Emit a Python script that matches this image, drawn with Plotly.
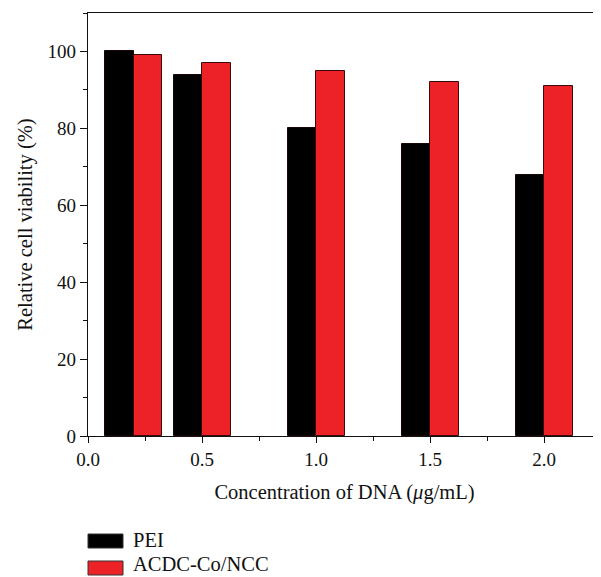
import plotly.graph_objects as go

conc = [0.2, 0.5, 1.0, 1.5, 2.0]
pei = [100, 94, 80, 76, 68]
acdc = [99, 97, 95, 92, 91]
series_names = ["PEI", "ACDC-Co/NCC"]
colors = ["#000000", "#EC2227"]
x_ticks = [0.0, 0.5, 1.0, 1.5, 2.0]
x_ticklabels = ["0.0", "0.5", "1.0", "1.5", "2.0"]
y_ticks = [0, 20, 40, 60, 80, 100]

FONT = "Liberation Serif"
bw = 0.125

fig = go.Figure()
fig.add_trace(go.Bar(x=conc, y=pei, name=series_names[0], width=bw, offset=-bw,
                     marker=dict(color=colors[0], line=dict(color="#1a0505", width=1)),
                     showlegend=False))
fig.add_trace(go.Bar(x=conc, y=acdc, name=series_names[1], width=bw, offset=0,
                     marker=dict(color=colors[1], line=dict(color="#3a0a0a", width=1)),
                     showlegend=False))

# page has an 8px body margin; plot area targets screen x 88..601, y 13..436
fig.update_layout(
    width=593, height=569,
    margin=dict(l=80, r=0, t=5, b=141),
    plot_bgcolor="white", paper_bgcolor="white",
    font=dict(family=FONT, size=19, color="#111"),
    bargap=0,
)
fig.update_xaxes(
    range=[0, 2.25], tickvals=x_ticks, ticktext=x_ticklabels,
    showline=True, linecolor="#111", linewidth=1.3, mirror=True,
    ticks="outside", ticklen=6, tickwidth=1, tickcolor="#111",
    minor=dict(dtick=0.25, tick0=0, ticks="outside", ticklen=4, tickcolor="#111"),
    showgrid=False, zeroline=False,
    title=dict(text="Concentration of DNA (<i>μ</i>g/mL)", font=dict(size=20.5), standoff=15),
    tickfont=dict(size=19),
)
fig.update_yaxes(
    range=[0, 110], tickvals=y_ticks,
    showline=True, linecolor="#111", linewidth=1.3,
    ticks="outside", ticklen=7, tickwidth=1, tickcolor="#111",
    minor=dict(dtick=10, tick0=0, ticks="outside", ticklen=4, tickcolor="#111"),
    showgrid=False, zeroline=False,
    title=dict(text="Relative cell viability (%)", font=dict(size=20.5), standoff=9),
    tickfont=dict(size=19),
)

# legend drawn below the chart (positions in screen px converted to paper coords)
PL, PT, PW, PH = 88, 13, 513, 423
leg_y = [541, 568]
text_bottom = [553, 576.5]
for i, name in enumerate(series_names):
    yc = leg_y[i]
    fig.add_shape(type="rect", xref="paper", yref="paper",
                  x0=(88 - PL) / PW, x1=(123 - PL) / PW,
                  y0=(PT + PH - (yc + 7)) / PH, y1=(PT + PH - (yc - 7)) / PH,
                  fillcolor=colors[i], line=dict(color="#333", width=1))
    fig.add_annotation(xref="paper", yref="paper",
                       x=(131 - PL) / PW, y=(PT + PH - text_bottom[i]) / PH,
                       text=name, showarrow=False, xanchor="left", yanchor="bottom",
                       font=dict(size=20.5, family=FONT, color="#111"))

fig.write_html("out.html")
